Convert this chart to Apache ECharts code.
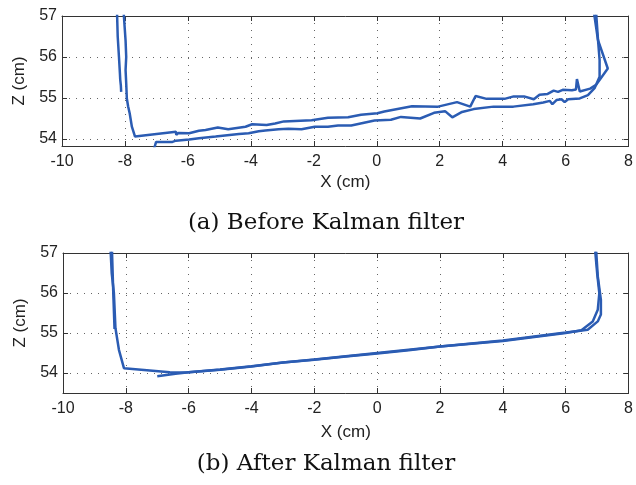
<!DOCTYPE html>
<html>
<head>
<meta charset="utf-8">
<script src="https://cdn.jsdelivr.net/npm/echarts@6/dist/echarts.min.js"></script>
<style>html,body{margin:0;padding:0;background:#fff;}#c{width:636px;height:485px;}</style>
</head>
<body>
<div id="c"></div>
<script>
// ---- Data (X cm, Z cm) ----
const xTicks = [-10, -8, -6, -4, -2, 0, 2, 4, 6, 8];
const zTicks = [54, 55, 56, 57];
const captionA = '(a) Before Kalman filter';
const captionB = '(b) After Kalman filter';

// (a) Before Kalman filter
const rawStub = [[-8.26,57.3],[-8.23,56.5],[-8.19,56.0],[-8.16,55.6],[-8.15,55.45],[-8.13,55.3],[-8.12,55.15]];
const rawUpper = [[-8.06,57.3],[-7.98,56.4],[-7.96,56.0],[-7.98,55.68],[-7.96,55.36],[-7.94,54.99],[-7.9,54.8],[-7.85,54.63],[-7.78,54.3],[-7.68,54.06],[-6.38,54.18],[-6.37,54.1],[-6.3,54.15],[-5.96,54.14],[-5.65,54.2],[-5.44,54.22],[-5.05,54.28],[-4.72,54.24],[-4.17,54.3],[-3.96,54.36],[-3.5,54.34],[-3.23,54.38],[-2.95,54.43],[-2.07,54.46],[-1.55,54.52],[-0.91,54.53],[-0.5,54.59],[0.02,54.63],[0.24,54.67],[1.12,54.8],[1.95,54.79],[2.55,54.9],[2.97,54.79],[3.14,55.05],[3.49,54.98],[4.06,54.98],[4.35,55.04],[4.68,55.04],[4.99,54.97],[5.17,55.08],[5.43,55.1],[5.62,55.18],[5.76,55.15],[5.91,55.2],[6.2,55.19],[6.33,55.21],[6.36,55.46],[6.45,55.16],[6.78,55.23],[6.97,55.32],[7.34,55.72],[7.03,56.41],[6.86,57.3]];
const rawLower = [[6.95,57.3],[7.03,56.41],[7.08,55.93],[7.08,55.52],[6.92,55.24],[6.71,55.07],[6.45,54.99],[6.08,54.97],[5.97,54.9],[5.87,54.97],[5.71,54.95],[5.58,54.85],[5.5,54.93],[5.29,54.89],[4.97,54.85],[4.34,54.79],[3.71,54.79],[3.08,54.73],[2.71,54.66],[2.4,54.53],[2.17,54.68],[1.82,54.64],[1.38,54.5],[0.77,54.54],[0.45,54.47],[-0.07,54.45],[-0.81,54.33],[-1.23,54.33],[-1.55,54.3],[-1.97,54.3],[-2.39,54.24],[-2.81,54.25],[-3.12,54.24],[-3.54,54.21],[-3.75,54.19],[-4.07,54.14],[-4.38,54.12],[-5.12,54.06],[-5.65,54.02],[-5.96,53.99],[-6.38,53.96],[-6.49,53.93],[-7.01,53.93],[-7.1,53.7]];

// (b) After Kalman filter
const kfStub = [[-8.45,57.3],[-8.4,56.0],[-8.36,55.1]];
const kfOut = [[-8.5,57.3],[-8.45,56.5],[-8.38,56.0],[-8.33,55.12],[-8.22,54.58],[-8.06,54.12],[-6.6,54.02],[-6.1,54.01],[-5.0,54.08],[-4.0,54.16],[-3.0,54.26],[-2.0,54.33],[-1.0,54.41],[0.0,54.49],[1.0,54.57],[2.0,54.66],[3.0,54.73],[4.0,54.8],[5.0,54.9],[6.0,55.0],[6.5,55.07],[6.86,55.29],[7.02,55.58],[7.07,56.0],[7.0,56.5],[6.91,57.3]];
const kfBack = [[6.95,57.3],[7.02,56.42],[7.12,55.83],[7.12,55.46],[7.02,55.29],[6.7,55.08],[6.28,55.04],[6.0,55.01],[5.0,54.91],[4.0,54.81],[3.0,54.74],[2.0,54.66],[1.0,54.58],[0.0,54.5],[-1.0,54.42],[-2.0,54.34],[-3.0,54.26],[-4.0,54.17],[-5.0,54.09],[-6.0,54.02],[-6.42,53.98],[-7.0,53.92]];

const LINE = '#2b5cb3';
const SANS = 'Liberation Sans, Arial, sans-serif';
const SERIF = 'DejaVu Serif, serif';

function xAx(grid, pos, withLabels, gap) {
  return {
    type: 'value', gridIndex: grid, position: pos, min: xTicks[0], max: xTicks[xTicks.length-1], interval: 2,
    name: withLabels ? 'X (cm)' : '', nameLocation: 'middle', nameGap: gap,
    nameTextStyle: {fontSize: 17, fontFamily: SANS, color: '#222'},
    axisLine: {show: true, onZero: false, lineStyle: {color: '#333', width: 1}},
    axisTick: {show: true, inside: true, length: 5, lineStyle: {color: '#333'}},
    axisLabel: {show: withLabels, fontSize: 16, fontFamily: SANS, color: '#222', margin: 8},
    splitLine: {show: withLabels, lineStyle: {color: '#666', width: 1, type: [1, 6]}}
  };
}
function yAx(grid, pos, withLabels, lo) {
  return {
    type: 'value', gridIndex: grid, position: pos, min: lo, max: zTicks[zTicks.length-1],
    splitNumber: 4, minInterval: 1, maxInterval: 1,
    name: withLabels ? 'Z (cm)' : '', nameLocation: 'middle', nameGap: 34,
    nameTextStyle: {fontSize: 17, fontFamily: SANS, color: '#222'},
    axisLine: {show: true, onZero: false, lineStyle: {color: '#333', width: 1}},
    axisTick: {show: true, inside: true, length: 5, lineStyle: {color: '#333'}},
    axisLabel: {show: withLabels, fontSize: 16, fontFamily: SANS, color: '#222', margin: 5, showMinLabel: false},
    splitLine: {show: withLabels, lineStyle: {color: '#666', width: 1, type: [1, 6]}}
  };
}
function ser(data, xi, yi) {
  return {type: 'line', data: data, xAxisIndex: xi, yAxisIndex: yi, showSymbol: false, symbol: 'none',
    clip: true, lineStyle: {color: LINE, width: 2.5}, z: 3};
}

const chart = echarts.init(document.getElementById('c'), null, {renderer: 'canvas'});
chart.setOption({
  animation: false,
  backgroundColor: '#fff',
  grid: [
    {left: 62, top: 16, width: 571, height: 130},
    {left: 63, top: 253, width: 567, height: 140}
  ],
  xAxis: [xAx(0, 'bottom', true, 28), xAx(0, 'top', false, 0), xAx(1, 'bottom', true, 31), xAx(1, 'top', false, 0)],
  yAxis: [yAx(0, 'left', true, 53.83), yAx(0, 'right', false, 53.83), yAx(1, 'left', true, 53.5), yAx(1, 'right', false, 53.5)],
  series: [
    ser(rawStub, 0, 0), ser(rawUpper, 0, 0), ser(rawLower, 0, 0),
    ser(kfStub, 2, 2), ser(kfOut, 2, 2), ser(kfBack, 2, 2)
  ],
  graphic: [
    {type: 'text', x: 326, y: 223, style: {text: captionA, fontSize: 23, fontFamily: SERIF, fill: '#111', align: 'center', verticalAlign: 'middle'}},
    {type: 'text', x: 326, y: 464, style: {text: captionB, fontSize: 23, fontFamily: SERIF, fill: '#111', align: 'center', verticalAlign: 'middle'}}
  ]
});
</script>
</body>
</html>
